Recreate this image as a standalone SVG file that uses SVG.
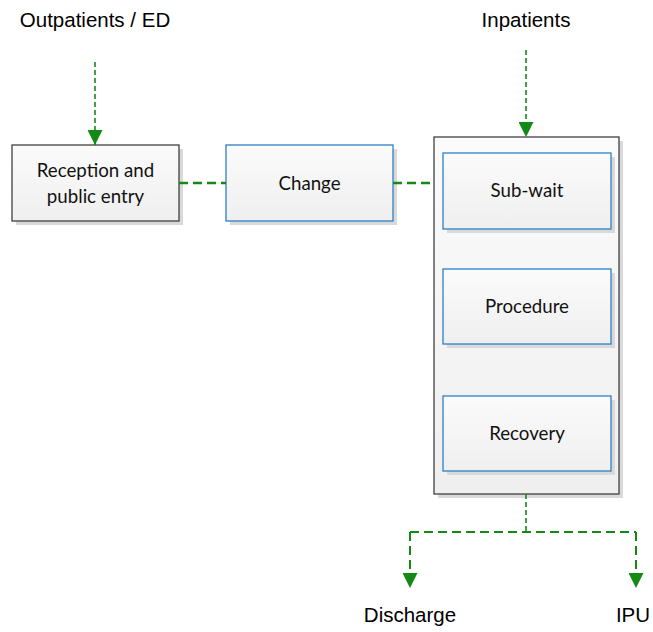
<svg xmlns="http://www.w3.org/2000/svg" width="653" height="632" viewBox="0 0 653 632">
  <defs>
    <linearGradient id="boxFill" x1="0" y1="0" x2="0" y2="1">
      <stop offset="0" stop-color="#fbfbfb"/>
      <stop offset="1" stop-color="#efefef"/>
    </linearGradient>
    <marker id="arrowHead" viewBox="0 0 14 14" refX="14" refY="7" markerWidth="15" markerHeight="15" orient="auto" markerUnits="userSpaceOnUse">
      <path d="M0,0 L14,7 L0,14 Z" fill="#138a13"/>
    </marker>
  </defs>
  <style>
    .shadow { fill: #d9d9d9; }
    .box { fill: url(#boxFill); stroke-width: 1.3; }
    .grey { stroke: #404040; }
    .blue { stroke: #2e7ec6; }
    .label { font-family: Lato, "Open Sans", sans-serif; font-size: 18.7px; fill: #111; text-anchor: middle; }
    .outer { font-family: "Liberation Sans", Arial, sans-serif; font-size: 20.5px; fill: #000; text-anchor: middle; }
    .link { fill: none; stroke: #138a13; stroke-width: 2.5; stroke-dasharray: 9 5; }
    .feed { fill: none; stroke: #138a13; stroke-width: 1.6; stroke-dasharray: 5 3; }
  </style>

  <!-- free-standing labels -->
  <text class="outer" x="95" y="27">Outpatients / ED</text>
  <text class="outer" x="526" y="27">Inpatients</text>
  <text class="outer" x="410" y="622">Discharge</text>
  <text class="outer" x="633" y="622">IPU</text>

  <g id="reception">
    <rect class="shadow" x="16" y="149" width="167" height="76"/>
    <rect class="box grey" x="12" y="145" width="167" height="76"/>
    <text class="label" x="95.5" y="177">Reception and</text>
    <text class="label" x="95.5" y="203">public entry</text>
  </g>

  <g id="change">
    <rect class="shadow" x="230" y="149" width="167" height="76"/>
    <rect class="box blue" x="226" y="145" width="167" height="76"/>
    <text class="label" x="309.5" y="190">Change</text>
  </g>

  <g id="theatre">
    <rect class="shadow" x="438" y="141" width="185" height="357"/>
    <rect class="box grey" x="434" y="137" width="185" height="357"/>
  </g>

  <g id="sub-wait">
    <rect class="shadow" x="447" y="157" width="168" height="76"/>
    <rect class="box blue" x="443" y="153" width="168" height="76"/>
    <text class="label" x="527" y="197">Sub-wait</text>
  </g>

  <g id="procedure">
    <rect class="shadow" x="447" y="273" width="168" height="75"/>
    <rect class="box blue" x="443" y="269" width="168" height="75"/>
    <text class="label" x="527" y="313">Procedure</text>
  </g>

  <g id="recovery">
    <rect class="shadow" x="447" y="400" width="168" height="75"/>
    <rect class="box blue" x="443" y="396" width="168" height="75"/>
    <text class="label" x="527" y="440">Recovery</text>
  </g>

  <g id="connectors">
    <path class="feed" d="M95,62 V145" marker-end="url(#arrowHead)"/>
    <path class="feed" d="M526,50 V137" marker-end="url(#arrowHead)"/>
    <path class="link" d="M179,183 H226"/>
    <path class="link" d="M393,183 H434"/>
    <path class="feed" d="M526,494 V532"/>
    <path class="link" d="M410,532 H636" style="stroke-width:2"/>
    <path class="link" d="M410,532 V588" style="stroke-width:2" marker-end="url(#arrowHead)"/>
    <path class="link" d="M636,532 V588" style="stroke-width:2" marker-end="url(#arrowHead)"/>
  </g>
</svg>
